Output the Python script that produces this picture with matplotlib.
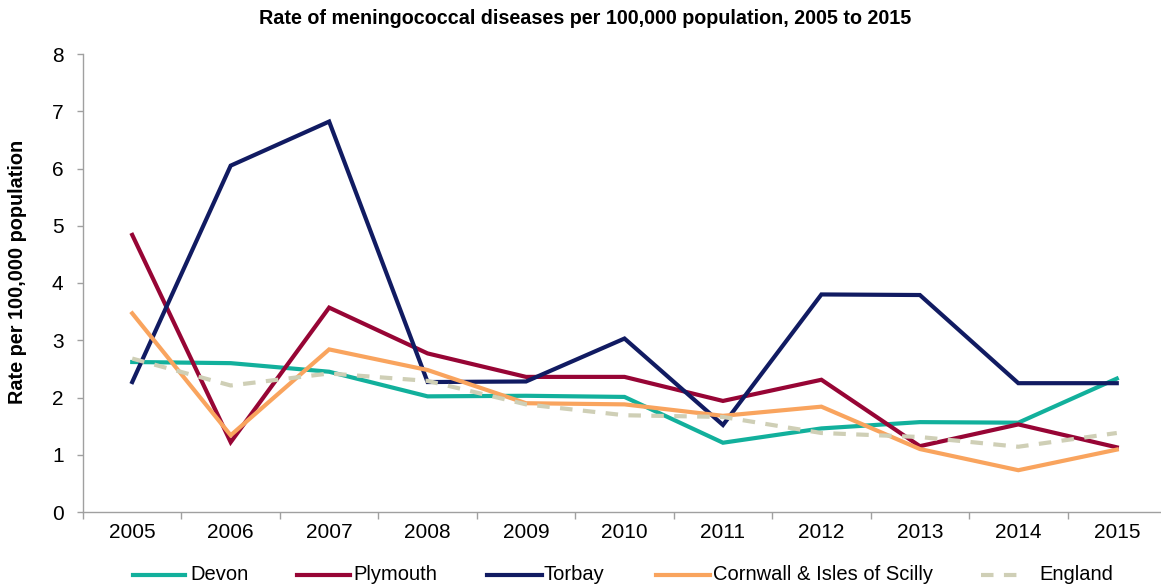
import matplotlib
matplotlib.use("Agg")
import matplotlib.pyplot as plt
from matplotlib.lines import Line2D
import numpy as np

years = ["2005", "2006", "2007", "2008", "2009", "2010", "2011", "2012", "2013", "2014", "2015"]
devon = [2.62, 2.60, 2.45, 2.02, 2.03, 2.01, 1.21, 1.46, 1.57, 1.56, 2.33]
plymouth = [4.84, 1.22, 3.57, 2.77, 2.36, 2.36, 1.94, 2.31, 1.15, 1.53, 1.13]
torbay = [2.27, 6.05, 6.82, 2.27, 2.28, 3.03, 1.52, 3.80, 3.79, 2.25, 2.25]
cornwall = [3.47, 1.34, 2.84, 2.48, 1.90, 1.88, 1.68, 1.84, 1.10, 0.73, 1.09]
england = [2.68, 2.21, 2.42, 2.29, 1.88, 1.69, 1.66, 1.38, 1.31, 1.14, 1.38]
yticks = [0, 1, 2, 3, 4, 5, 6, 7, 8]

plt.rcParams['font.family'] = ['Liberation Sans', 'DejaVu Sans']

W, H = 1161, 587
fig = plt.figure(figsize=(W / 100, H / 100), dpi=100)
left, right, top, bottom = 83, 1166, 54, 512
ax = fig.add_axes([left / W, 1 - bottom / H, (right - left) / W, (bottom - top) / H])

x = np.arange(len(years))
series = [
    ("Devon", devon, dict(color="#12B09C", lw=3, solid_joinstyle="miter")),
    ("Plymouth", plymouth, dict(color="#970535", lw=3, solid_joinstyle="miter")),
    ("Torbay", torbay, dict(color="#111B62", lw=3, solid_joinstyle="miter")),
    ("Cornwall & Isles of Scilly", cornwall, dict(color="#F9A45E", lw=3, solid_joinstyle="miter")),
    ("England", england, dict(color="#CFCFB6", lw=3, ls=(0, (3, 2.5)))),
]
for name, vals, st in series:
    ax.plot(x, vals, label=name, **st)

ax.set_xlim(-0.5, len(years) - 0.5)
ax.set_ylim(0, 8)
ax.set_yticks(yticks)
ax.set_yticklabels([str(v) for v in yticks], fontsize=15)
ax.set_xticks(x)
ax.set_xticklabels(years, fontsize=15)
ax.set_xticks(np.arange(-0.5, len(years), 1.0), minor=True)
ax.tick_params(axis="x", which="major", length=0, pad=8)
ax.tick_params(axis="x", which="minor", length=5, color="#A0A0A0", width=1)
ax.tick_params(axis="y", length=4, color="#A0A0A0", width=1, pad=10)

for s in ["top", "right"]:
    ax.spines[s].set_visible(False)
for s in ["left", "bottom"]:
    ax.spines[s].set_color("#A0A0A0")
    ax.spines[s].set_linewidth(1)

fig.text(585 / W, 1 - 18 / H, "Rate of meningococcal diseases per 100,000 population, 2005 to 2015",
         ha="center", va="center", fontsize=14.2, fontweight="bold")
fig.text(18 / W, 1 - 272 / H, "Rate per 100,000 population", rotation=90,
         ha="center", va="center", fontsize=14.3, fontweight="bold")

# manual legend (layout positions in pixels)
leg_pos = [(133, 185, 190), (297, 350, 353), (487, 542, 543), (656, 710, 713), (981, 1024, 1039)]
ly = 1 - 575 / H
for (name, vals, st), (x0, x1, tx) in zip(series, leg_pos):
    kw = {k: v for k, v in st.items() if k != "solid_joinstyle"}
    fig.add_artist(Line2D([x0 / W, x1 / W], [ly, ly], transform=fig.transFigure, **kw))
    fig.text(tx / W, ly, name, ha="left", va="center", fontsize=14.5)

fig.savefig("out.png", dpi=100)
